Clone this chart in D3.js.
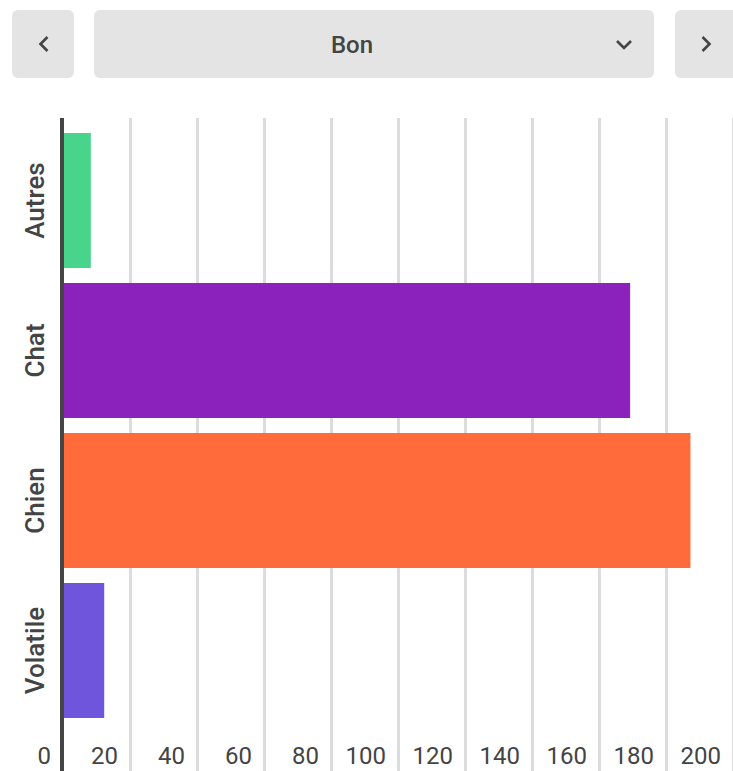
<!DOCTYPE html>
<html>
<head>
<meta charset="utf-8">
<script src="https://cdn.jsdelivr.net/npm/d3@7"></script>
<style>
body { margin: 0; background: #fff; }
text { font-family: Roboto, sans-serif; }
</style>
</head>
<body>
<div id="chart"></div>
<script>
var categories = ["Autres", "Chat", "Chien", "Volatile"];
var values = [8, 169, 187, 12];
var colors = ["#48d48b", "#8c22bc", "#ff6b3a", "#6e55dc"];
var ticks = [0, 20, 40, 60, 80, 100, 120, 140, 160, 180, 200];
var selected = "Bon";

var width = 733, height = 771;
var svg = d3.select("#chart").append("svg").attr("width", width).attr("height", height);

// top selector buttons
var btnFill = "#e4e4e4";
var btns = [{x: 12, w: 62}, {x: 94, w: 560}, {x: 675, w: 70}];
btns.forEach(function(b) {
	svg.append("rect")
		.attr("x", b.x).attr("y", 10)
		.attr("width", b.w).attr("height", 68)
		.attr("rx", 6)
		.style("fill", btnFill);
});
svg.append("text")
	.attr("x", 352).attr("y", 52.5)
	.attr("text-anchor", "middle")
	.attr("font-size", "24px")
	.attr("font-weight", 500)
	.attr("fill", "#444")
	.text(selected);

// chevrons
var chev = [
	"M47.5,37 L40.5,44 L47.5,51",
	"M702.5,37 L709.5,44 L702.5,51",
	"M617,41 L624,48 L631,41"
];
chev.forEach(function(p) {
	svg.append("path")
		.attr("d", p)
		.style("fill", "none")
		.style("stroke", "#444")
		.style("stroke-width", 2.6);
});

var x = d3.scaleLinear().domain([0, 200]).range([64, 734]);
var y = d3.scaleBand().domain(categories).range([125.5, 725.5]).paddingInner(0.1).paddingOuter(0.05);

// gridlines
svg.append("g").selectAll("line")
	.data(ticks.filter(function(t) { return t > 0; }))
	.enter().append("line")
	.attr("x1", function(d) { return x(d) - 0.5; })
	.attr("x2", function(d) { return x(d) - 0.5; })
	.attr("y1", 118)
	.attr("y2", height)
	.style("stroke", "#dcdcdc")
	.style("stroke-width", 3);

// bars
svg.append("g").selectAll("rect")
	.data(categories)
	.enter().append("rect")
	.attr("x", x(0))
	.attr("y", function(d) { return y(d); })
	.attr("width", function(d, i) { return x(values[i]) - x(0); })
	.attr("height", y.bandwidth())
	.style("fill", function(d, i) { return colors[i]; });

// axis line
svg.append("line")
	.attr("x1", 62).attr("x2", 62)
	.attr("y1", 118).attr("y2", height)
	.style("stroke", "#444")
	.style("stroke-width", 4);

// x tick labels
svg.append("g").selectAll("text")
	.data(ticks)
	.enter().append("text")
	.attr("x", function(d) { return x(d) - 13; })
	.attr("y", 764)
	.attr("text-anchor", "end")
	.attr("font-size", "24px")
	.attr("fill", "#444")
	.text(function(d) { return d; });

// category labels
svg.append("g").selectAll("text")
	.data(categories)
	.enter().append("text")
	.attr("transform", function(d) {
		return "translate(35," + (y(d) + y.bandwidth() / 2) + ") rotate(-90)";
	})
	.attr("dy", "0.35em")
	.attr("text-anchor", "middle")
	.attr("font-size", "26px")
	.attr("font-weight", 500)
	.attr("fill", "#444")
	.text(function(d) { return d; });
</script>
</body>
</html>
